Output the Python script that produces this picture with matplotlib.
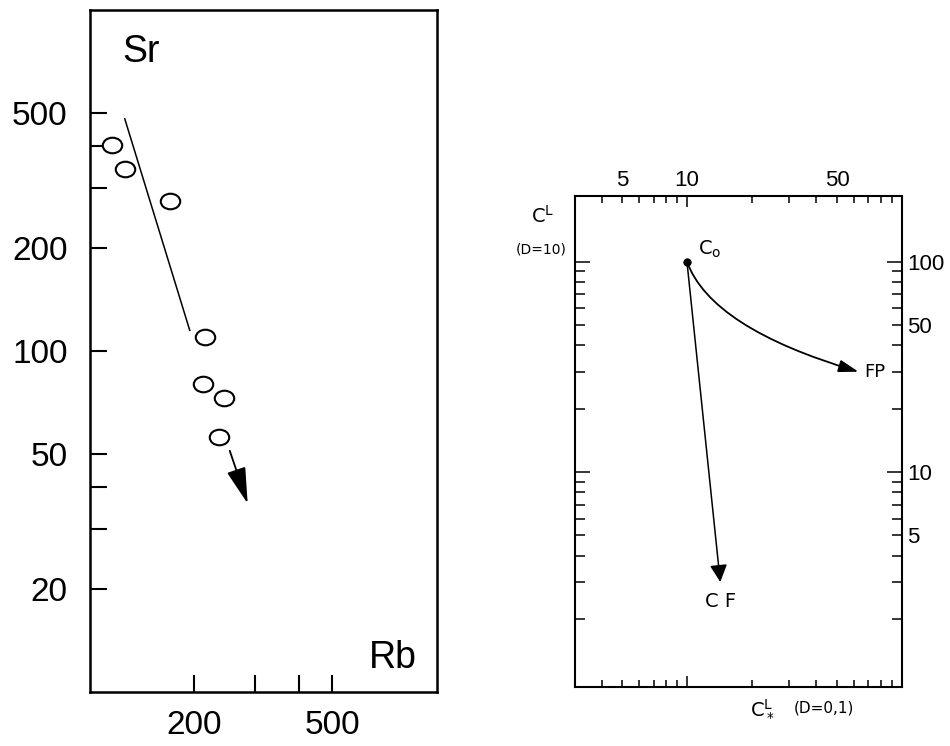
import matplotlib
matplotlib.use("Agg")
import matplotlib.pyplot as plt
from matplotlib.path import Path
from matplotlib.transforms import Affine2D
from matplotlib.ticker import FixedLocator, FixedFormatter

plt.rcParams['font.family'] = ['Liberation Sans', 'DejaVu Sans']
plt.rcParams['mathtext.default'] = 'regular'

# ---- left panel data (Rb vs Sr, ppm) ----
rb = [116, 126, 170, 215, 212, 243, 236]
sr = [401, 343, 276, 110, 80, 73, 56]
trend_rb = [126, 194]
trend_sr = [480, 115]
arrow_start = (253, 51)
arrow_end = (285, 35.7)

sr_ticks = [20, 30, 40, 50, 100, 200, 300, 400, 500]
sr_labels = [20, 50, 100, 200, 500]
rb_ticks = [200, 300, 400, 500]
rb_labels = [200, 500]

# ---- right panel data ----
co = (10, 100)
cf_end = (14.3, 3.0)
fp_end = (63, 30)
top_major = [10]
top_minor = [4, 5, 6, 7, 8, 9, 20, 30, 40, 50, 60, 70, 80, 90]
top_labels = [5, 10, 50]
right_major = [10, 100]
right_minor = [2, 3, 4, 5, 6, 7, 8, 9, 20, 30, 40, 50, 60, 70, 80, 90]
right_labels = [5, 10, 50, 100]

# slightly flattened open circle, like the hand drawn symbols
oval = Path.unit_circle().transformed(Affine2D().scale(1.0, 0.8))

fig = plt.figure(figsize=(9.5, 7.46), dpi=100)

# ================= left panel =================
ax = fig.add_axes([0.0947, 0.0724, 0.365, 0.914])
ax.set_xscale('log')
ax.set_yscale('log')
ax.set_xlim(100, 1000)
ax.set_ylim(10, 1000)

ax.plot(rb, sr, linestyle='none', marker=oval, ms=14, mfc='white',
        mec='black', mew=1.5, zorder=3)
ax.plot(trend_rb, trend_sr, '-', color='black', lw=1.1)
ax.annotate('', xy=arrow_end, xytext=arrow_start,
            arrowprops=dict(arrowstyle='-|>,head_length=1.5,head_width=0.4',
                            mutation_scale=15, lw=1.3, color='black',
                            shrinkA=0, shrinkB=0))

ax.yaxis.set_major_locator(FixedLocator(sr_ticks))
ax.yaxis.set_major_formatter(FixedFormatter(
    [str(v) if v in sr_labels else '' for v in sr_ticks]))
ax.yaxis.set_minor_locator(FixedLocator([]))
ax.xaxis.set_major_locator(FixedLocator(rb_ticks))
ax.xaxis.set_major_formatter(FixedFormatter(
    [str(v) if v in rb_labels else '' for v in rb_ticks]))
ax.xaxis.set_minor_locator(FixedLocator([]))

ax.tick_params(axis='both', which='major', direction='in', length=12,
               width=1.5, labelsize=24)
ax.tick_params(axis='y', pad=16)
ax.tick_params(axis='x', pad=13)
for s in ax.spines.values():
    s.set_linewidth(1.8)

ax.text(0.092, 0.924, 'Sr', transform=ax.transAxes, fontsize=27,
        ha='left', va='baseline')
ax.text(0.942, 0.035, 'Rb', transform=ax.transAxes, fontsize=27,
        ha='right', va='baseline')

# ================= right panel =================
ax2 = fig.add_axes([0.605, 0.079, 0.344, 0.658])
ax2.set_xscale('log')
ax2.set_yscale('log')
ax2.set_xlim(3, 100)
ax2.set_ylim(0.95, 205)

ax2.xaxis.set_major_locator(FixedLocator(top_major))
ax2.xaxis.set_minor_locator(FixedLocator(top_minor))
ax2.xaxis.set_major_formatter(FixedFormatter(['10']))
ax2.xaxis.set_minor_formatter(FixedFormatter(
    [str(v) if v in top_labels else '' for v in top_minor]))
ax2.yaxis.set_major_locator(FixedLocator(right_major))
ax2.yaxis.set_minor_locator(FixedLocator(right_minor))
ax2.yaxis.set_major_formatter(FixedFormatter(['10', '100']))
ax2.yaxis.set_minor_formatter(FixedFormatter(
    [str(v) if v in right_labels else '' for v in right_minor]))

ax2.tick_params(axis='both', which='both', direction='in',
                top=True, bottom=True, left=True, right=True,
                labeltop=True, labelbottom=False,
                labelright=True, labelleft=False,
                labelsize=16, pad=4, width=1.1)
ax2.tick_params(axis='y', which='major', length=11)
ax2.tick_params(axis='y', which='minor', length=7)
ax2.tick_params(axis='x', which='major', length=8)
ax2.tick_params(axis='x', which='minor', length=5)
for s in ax2.spines.values():
    s.set_linewidth(1.5)

ax2.plot(*co, 'o', ms=5, color='black', zorder=4)
ax2.annotate('', xy=cf_end, xytext=co,
             arrowprops=dict(arrowstyle='-|>,head_length=0.7,head_width=0.35',
                             mutation_scale=15, lw=1.1, color='black',
                             shrinkA=0, shrinkB=0))
ax2.annotate('', xy=fp_end, xytext=co,
             arrowprops=dict(arrowstyle='-|>,head_length=0.8,head_width=0.25',
                             mutation_scale=15, lw=1.3, color='black',
                             shrinkA=0, shrinkB=0,
                             connectionstyle='angle3,angleA=-70,angleB=-16.5'))

ax2.annotate('C$_o$', xy=co, xytext=(8, 1), textcoords='offset points',
             fontsize=14, ha='left', va='bottom', family='DejaVu Sans')
ax2.annotate('FP', xy=fp_end, xytext=(4, 0), textcoords='offset points',
             fontsize=13, ha='left', va='center', family='DejaVu Sans')
ax2.annotate('C F', xy=cf_end, xytext=(0, -14), textcoords='offset points',
             fontsize=14, ha='center', va='center', family='DejaVu Sans')

ax2.text(-0.098, 0.959, 'C$^L$', transform=ax2.transAxes, fontsize=14,
         ha='center', va='center', family='DejaVu Sans')
ax2.text(-0.104, 0.892, '(D=10)', transform=ax2.transAxes, fontsize=10,
         ha='center', va='center', family='DejaVu Sans')
ax2.text(0.575, -0.043, 'C$_*^L$', transform=ax2.transAxes, fontsize=14,
         ha='center', va='center', family='DejaVu Sans')
ax2.text(0.761, -0.043, '(D=0,1)', transform=ax2.transAxes, fontsize=11,
         ha='center', va='center', family='DejaVu Sans')

fig.savefig('out.png', dpi=100)
